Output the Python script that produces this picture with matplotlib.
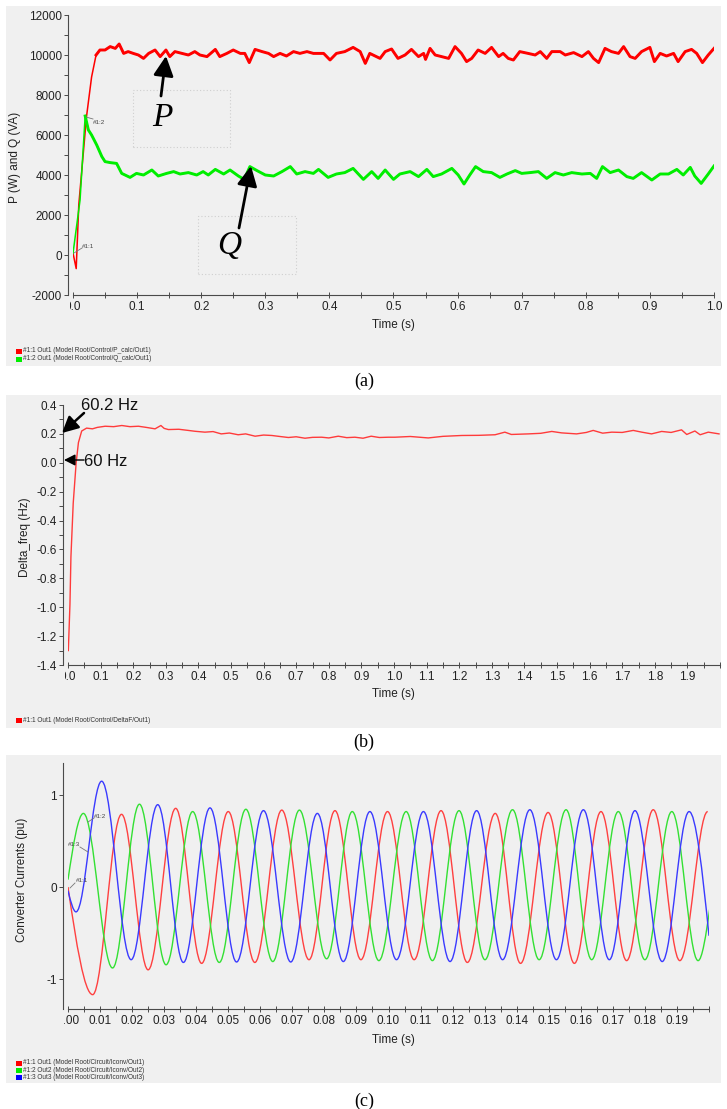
import numpy as np
import matplotlib
matplotlib.use("Agg")
import matplotlib.pyplot as plt
from matplotlib.patches import Rectangle, PathPatch, FancyArrowPatch
from matplotlib.path import Path
from matplotlib.lines import Line2D
from matplotlib.ticker import (MultipleLocator, FixedLocator, FixedFormatter,
                               FormatStrFormatter)
from matplotlib.transforms import Bbox, TransformedBbox

plt.rcParams["font.family"] = ["Liberation Sans", "DejaVu Sans"]
plt.rcParams["axes.unicode_minus"] = False

# ── (a) active / reactive power ── #
p_time = [0.000, 0.005, 0.009, 0.021, 0.029, 0.036, 0.042, 0.050, 0.058, 0.066,
          0.072, 0.079, 0.086, 0.094, 0.102, 0.110, 0.118, 0.128, 0.136, 0.145,
          0.151, 0.159, 0.170, 0.180, 0.190, 0.198, 0.209, 0.222, 0.229, 0.240,
          0.250, 0.261, 0.268, 0.275, 0.284, 0.295, 0.305, 0.313, 0.323, 0.333,
          0.344, 0.354, 0.365, 0.375, 0.391, 0.401, 0.411, 0.424, 0.437, 0.448,
          0.456, 0.463, 0.479, 0.487, 0.497, 0.507, 0.518, 0.528, 0.539, 0.547,
          0.550, 0.557, 0.565, 0.575, 0.586, 0.596, 0.606, 0.614, 0.622, 0.632,
          0.643, 0.653, 0.664, 0.671, 0.679, 0.687, 0.697, 0.710, 0.721, 0.729,
          0.739, 0.747, 0.760, 0.768, 0.781, 0.794, 0.804, 0.812, 0.820, 0.830,
          0.840, 0.851, 0.859, 0.869, 0.877, 0.887, 0.900, 0.907, 0.916, 0.926,
          0.937, 0.944, 0.955, 0.965, 0.973, 0.982, 0.991, 1.000]
p_watts = [100, -680, 2500, 6900, 8900, 10000, 10250, 10250, 10420, 10330,
           10550, 10080, 10170, 10080, 10000, 9830, 10080, 10250, 9920, 10250,
           9920, 10170, 10080, 10000, 10170, 10000, 9920, 10280, 9920, 10080,
           10250, 10080, 10080, 9620, 10280, 10170, 10080, 9920, 10080, 9950,
           10170, 10080, 10170, 10080, 10080, 9750, 10080, 10170, 10380, 10170,
           9580, 10080, 9830, 10170, 10300, 9830, 10000, 10280, 9920, 10080,
           9780, 10330, 10000, 9920, 9830, 10420, 10080, 9670, 9830, 10250,
           10080, 10380, 9920, 10080, 9830, 9750, 10170, 10080, 10000, 10170,
           9830, 10170, 10170, 10000, 10120, 9920, 10170, 9830, 9620, 10330,
           10170, 10080, 10420, 9920, 9830, 10170, 10380, 9670, 10080, 9950,
           10080, 9670, 10170, 10280, 10080, 9620, 10000, 10330]

q_time = [0.000, 0.011, 0.019, 0.024, 0.029, 0.037, 0.045, 0.050, 0.058, 0.068,
          0.076, 0.089, 0.099, 0.110, 0.123, 0.133, 0.146, 0.157, 0.167, 0.180,
          0.193, 0.203, 0.211, 0.222, 0.235, 0.245, 0.258, 0.267, 0.276, 0.287,
          0.300, 0.313, 0.326, 0.339, 0.349, 0.362, 0.375, 0.383, 0.398, 0.411,
          0.424, 0.437, 0.453, 0.466, 0.476, 0.487, 0.500, 0.510, 0.526, 0.539,
          0.552, 0.562, 0.575, 0.591, 0.601, 0.610, 0.619, 0.628, 0.640, 0.653,
          0.666, 0.677, 0.690, 0.700, 0.713, 0.726, 0.739, 0.752, 0.765, 0.778,
          0.794, 0.807, 0.817, 0.826, 0.838, 0.851, 0.864, 0.874, 0.887, 0.903,
          0.916, 0.929, 0.942, 0.952, 0.963, 0.970, 0.980, 0.991, 1.000]
q_var = [80, 2750, 6950, 6250, 6000, 5500, 4920, 4670, 4620, 4580,
         4080, 3880, 4080, 4000, 4250, 3950, 4080, 4170, 4050, 4120,
         4000, 4170, 4000, 4280, 4050, 4250, 3950, 3780, 4420, 4220,
         4000, 3950, 4170, 4420, 4050, 4170, 4080, 4280, 3880, 4050,
         4120, 4330, 3780, 4170, 3830, 4250, 3780, 4050, 4170, 3920,
         4280, 3920, 4050, 4330, 4000, 3550, 4000, 4420, 4170, 4120,
         3880, 4050, 4220, 4080, 4120, 4170, 3830, 4120, 4000, 4120,
         4050, 4080, 3830, 4420, 4120, 4250, 3920, 3830, 4120, 3750,
         4050, 4050, 4280, 4000, 4380, 3950, 3580, 4050, 4450]

# ── (b) frequency deviation ── #
df_time = [0.001, 0.006, 0.009, 0.016, 0.025, 0.032, 0.042, 0.057, 0.075, 0.090,
           0.114, 0.140, 0.165, 0.190, 0.216, 0.240, 0.267, 0.285, 0.295, 0.308,
           0.340, 0.369, 0.390, 0.420, 0.445, 0.470, 0.495, 0.522, 0.545, 0.574,
           0.600, 0.625, 0.650, 0.676, 0.700, 0.727, 0.750, 0.778, 0.800, 0.829,
           0.855, 0.880, 0.905, 0.930, 0.955, 0.983, 1.003, 1.050, 1.105, 1.150,
           1.208, 1.260, 1.310, 1.340, 1.360, 1.412, 1.450, 1.484, 1.514, 1.560,
           1.590, 1.611, 1.640, 1.668, 1.700, 1.734, 1.760, 1.790, 1.821, 1.850,
           1.882, 1.898, 1.923, 1.939, 1.964, 1.997]
df_hz = [-1.30, -0.98, -0.65, -0.28, 0.00, 0.14, 0.22, 0.240, 0.235, 0.245,
         0.253, 0.250, 0.258, 0.250, 0.253, 0.245, 0.235, 0.258, 0.238, 0.230,
         0.232, 0.224, 0.218, 0.212, 0.216, 0.200, 0.206, 0.194, 0.200, 0.184,
         0.192, 0.189, 0.182, 0.175, 0.180, 0.170, 0.176, 0.177, 0.172, 0.184,
         0.174, 0.177, 0.170, 0.184, 0.175, 0.177, 0.177, 0.182, 0.172, 0.183,
         0.189, 0.190, 0.194, 0.212, 0.196, 0.200, 0.204, 0.217, 0.207, 0.200,
         0.210, 0.224, 0.205, 0.212, 0.210, 0.224, 0.212, 0.200, 0.217, 0.210,
         0.228, 0.196, 0.220, 0.194, 0.212, 0.200]

# ── (c) converter phase currents: successive turning points ── #
ia_time = [0.0, 0.0077, 0.0167, 0.025, 0.0336, 0.0417, 0.050, 0.0583, 0.0667,
           0.0752, 0.0833, 0.0914, 0.0997, 0.108, 0.1164, 0.1246, 0.1333,
           0.1412, 0.1498, 0.158, 0.1663, 0.1743, 0.1826, 0.1909, 0.1996]
ia_pu = [0.0, -1.17, 0.79, -0.90, 0.855, -0.83, 0.82, -0.82, 0.836,
         -0.79, 0.83, -0.79, 0.82, -0.79, 0.83, -0.82, 0.80,
         -0.83, 0.81, -0.83, 0.82, -0.80, 0.84, -0.80, 0.82]
ib_time = [0.0, 0.0048, 0.0139, 0.0223, 0.0306, 0.0389, 0.0472, 0.0555, 0.0639,
           0.0722, 0.0807, 0.0887, 0.097, 0.1055, 0.1137, 0.122, 0.1301, 0.1387,
           0.147, 0.1554, 0.1634, 0.1717, 0.180, 0.1884, 0.1966, 0.2003]
ib_pu = [0.08, 0.80, -0.88, 0.90, -0.845, 0.82, -0.82, 0.845, -0.81,
         0.836, -0.78, 0.82, -0.80, 0.82, -0.80, 0.83, -0.79, 0.84,
         -0.79, 0.84, -0.79, 0.82, -0.79, 0.82, -0.80, -0.22]
ic_time = [0.0, 0.0025, 0.0105, 0.0197, 0.028, 0.036, 0.0443, 0.0526, 0.061,
           0.0695, 0.0778, 0.0859, 0.0942, 0.1025, 0.1109, 0.1192, 0.1275,
           0.1356, 0.1441, 0.1524, 0.1608, 0.1689, 0.1769, 0.1854, 0.1938, 0.200]
ic_pu = [-0.04, -0.27, 1.15, -0.79, 0.895, -0.82, 0.86, -0.815, 0.83,
         -0.815, 0.80, -0.81, 0.82, -0.79, 0.82, -0.81, 0.83,
         -0.79, 0.84, -0.79, 0.84, -0.79, 0.83, -0.81, 0.82, -0.53]

W, H, DPI = 727, 1109, 100
BG = "#f0f0f0"
AXIS = "#4a4a4a"
TXT = "#222222"
TICK_FS = 8.5


def fx(x):
    return x / W


def fy(y):
    return 1 - y / H


fig = plt.figure(figsize=(W / DPI, H / DPI), dpi=DPI, facecolor="white")

for top, bot in [(6, 366), (395, 728), (755, 1083)]:
    fig.add_artist(Rectangle((fx(6), fy(bot)), fx(721) - fx(6), fy(top) - fy(bot),
                             transform=fig.transFigure, facecolor=BG,
                             edgecolor="none", zorder=0))


def make_axes(left, right, top, bottom):
    ax = fig.add_axes([fx(left), fy(bottom), fx(right) - fx(left), fy(top) - fy(bottom)])
    ax.set_facecolor("none")
    ax.spines["top"].set_visible(False)
    ax.spines["right"].set_visible(False)
    ax.spines["left"].set_position(("outward", 3.6))
    for s in ("left", "bottom"):
        ax.spines[s].set_color(AXIS)
        ax.spines[s].set_linewidth(0.8)
    ax.tick_params(axis="x", which="both", direction="inout", length=4,
                   width=0.7, color=AXIS, labelsize=TICK_FS, labelcolor=TXT, pad=2)
    ax.tick_params(axis="y", which="both", direction="out", length=3,
                   width=0.7, color=AXIS, labelsize=TICK_FS, labelcolor=TXT, pad=1.5)
    return ax


def set_time_ticks(ax, majors, labels, minor_step, clip_left_px):
    ax.xaxis.set_major_locator(FixedLocator(majors))
    ax.xaxis.set_major_formatter(FixedFormatter(labels))
    ax.xaxis.set_minor_locator(MultipleLocator(minor_step))
    # the first label is partly hidden on its left edge
    box = TransformedBbox(Bbox([[fx(clip_left_px), 0], [1, 1]]), fig.transFigure)
    for tick in ax.xaxis.get_major_ticks():
        tick.label1.set_clip_box(box)
        tick.label1.set_clip_on(True)


def axis_labels(ax, xlab, xpos, ylab, ypos):
    ax.set_xlabel(xlab, fontsize=8.5, color=TXT, va="center")
    ax.xaxis.set_label_coords(fx(xpos[0]), fy(xpos[1]), transform=fig.transFigure)
    ax.set_ylabel(ylab, fontsize=8.5, color=TXT, va="center")
    ax.yaxis.set_label_coords(fx(ypos[0]), fy(ypos[1]), transform=fig.transFigure)


def legend_rows(rows, x, y0, dy):
    for i, (color, text) in enumerate(rows):
        y = y0 + i * dy
        fig.add_artist(Rectangle((fx(x), fy(y + 2.5)), fx(6), 5 / H,
                                 transform=fig.transFigure, facecolor=color,
                                 edgecolor="none"))
        fig.text(fx(x + 7), fy(y), text, fontsize=4.7, color="#333333",
                 va="center", ha="left")


def caption(text, y):
    fig.text(fx(364), fy(y), text, fontsize=13, family="Liberation Serif",
             ha="center", va="center", color="black")


def tag(text, xy, line_from, line_to):
    fig.add_artist(Line2D([fx(line_from[0]), fx(line_to[0])],
                          [fy(line_from[1]), fy(line_to[1])],
                          transform=fig.transFigure, color="#777777", lw=0.6))
    fig.text(fx(xy[0]), fy(xy[1]), text, fontsize=4.5, color="#444444",
             ha="left", va="center")


def arrow(tail, tip, lw=2.0, scale=16, width=0.38):
    fig.add_artist(FancyArrowPatch(
        (fx(tail[0]), fy(tail[1])), (fx(tip[0]), fy(tip[1])),
        transform=fig.transFigure,
        arrowstyle=f"-|>,head_length=0.75,head_width={width}",
        mutation_scale=scale, lw=lw, color="black", shrinkA=0, shrinkB=0))


def wave_path(times, values, partial_start, partial_end):
    """Smooth half-wave Bezier segments between successive turning points."""
    c = 0.3634
    verts = [(times[0], values[0])]
    codes = [Path.MOVETO]
    last = len(times) - 2
    for i in range(len(times) - 1):
        t0, t1 = times[i], times[i + 1]
        v0, v1 = values[i], values[i + 1]
        dt, dv = t1 - t0, v1 - v0
        if i == 0 and partial_start:
            c1 = (t0 + dt / 3, v0 + dv * 0.5236)
            c2 = (t0 + 2 * dt / 3, v1)
        elif i == last and partial_end:
            c1 = (t0 + dt / 3, v0)
            c2 = (t0 + 2 * dt / 3, v1 - dv * 0.5236)
        else:
            c1 = (t0 + c * dt, v0)
            c2 = (t1 - c * dt, v1)
        verts += [c1, c2, (t1, v1)]
        codes += [Path.CURVE4] * 3
    return Path(verts, codes)


# ── panel (a) ── #
ax1 = make_axes(73, 714, 15, 295)
# thin trace for the start-up ramp, heavier noisy band once settled
for times, vals, col, settle in [(p_time, p_watts, "#ff0000", 5),
                                 (q_time, q_var, "#00ee00", 2)]:
    ax1.plot(times, vals, color=col, lw=1.1)
    ax1.plot(times[settle:], vals[settle:], color=col, lw=2.1,
             solid_joinstyle="round")
ax1.set_xlim(0, 1.0)
ax1.set_ylim(-2000, 12000)
ax1.yaxis.set_major_locator(MultipleLocator(2000))
ax1.yaxis.set_minor_locator(MultipleLocator(1000))
set_time_ticks(ax1, np.round(np.arange(0, 1.01, 0.1), 1),
               [f"{v:.1f}" for v in np.arange(0, 1.01, 0.1)], 0.05, 70)
axis_labels(ax1, "Time (s)", (393, 325), "P (W) and Q (VA)", (15, 157))
legend_rows([("#ff0000", "#1:1 Out1 (Model Root/Control/P_calc/Out1)"),
             ("#00ee00", "#1:2 Out1 (Model Root/Control/Q_calc/Out1)")],
            16, 351, 8)
tag("#1:2", (93, 122), (86, 117), (93, 119))
tag("#1:1", (82, 246), (74, 253), (82, 248))

for (x0, y0, x1, y1) in [(133, 90, 230, 147), (198, 216, 296, 274)]:
    fig.add_artist(Rectangle((fx(x0), fy(y1)), fx(x1) - fx(x0), fy(y0) - fy(y1),
                             transform=fig.transFigure, facecolor="none",
                             edgecolor="#cfcfcf", lw=0.8, ls=(0, (1, 2))))
fig.text(fx(162), fy(118), "P", fontsize=24, family="Liberation Serif",
         style="italic", ha="center", va="center")
fig.text(fx(229), fy(246), "Q", fontsize=24, family="Liberation Serif",
         style="italic", ha="center", va="center")
arrow((161, 96), (166, 56))
arrow((239, 228), (251, 166))
caption("(a)", 381)

# ── panel (b) ── #
ax2 = make_axes(68, 720, 405, 665)
ax2.plot(df_time, df_hz, color="#ff3b3b", lw=1.0)
ax2.set_xlim(0, 2.0)
ax2.set_ylim(-1.4, 0.4)
ax2.yaxis.set_major_locator(MultipleLocator(0.2))
ax2.yaxis.set_minor_locator(MultipleLocator(0.1))
ax2.yaxis.set_major_formatter(FormatStrFormatter("%.1f"))
set_time_ticks(ax2, np.round(np.arange(0, 1.91, 0.1), 1),
               [f"{v:.1f}" for v in np.arange(0, 1.91, 0.1)], 0.05, 65)
axis_labels(ax2, "Time (s)", (393, 694), "Delta_freq (Hz)", (25, 537))
legend_rows([("#ff0000", "#1:1 Out1 (Model Root/Control/DeltaF/Out1)")], 16, 720, 8)
fig.text(fx(81), fy(406), "60.2 Hz", fontsize=12, ha="left", va="center", color="#111111")
fig.text(fx(84), fy(461), "60 Hz", fontsize=12, ha="left", va="center", color="#111111")
arrow((84, 413), (62, 433), lw=1.8, scale=13)
arrow((84, 460), (64, 460), lw=1.0, scale=9)
caption("(b)", 742)

# ── panel (c) ── #
ax3 = make_axes(68, 709, 763, 1009)
for times, vals, col, p_end in [(ia_time, ia_pu, "#ff4040", False),
                                (ib_time, ib_pu, "#33e033", True),
                                (ic_time, ic_pu, "#3a3aff", True)]:
    ax3.add_patch(PathPatch(wave_path(times, vals, True, p_end), facecolor="none",
                            edgecolor=col, lw=1.0))
ax3.set_xlim(0, 0.2)
ax3.set_ylim(-1.326, 1.348)
ax3.yaxis.set_major_locator(FixedLocator([-1, 0, 1]))
ax3.yaxis.set_major_formatter(FixedFormatter(["-1", "0", "1"]))
set_time_ticks(ax3, np.round(np.arange(0, 0.191, 0.01), 2),
               [f"{v:.2f}" for v in np.arange(0, 0.191, 0.01)], 0.005, 64)
axis_labels(ax3, "Time (s)", (393, 1040), "Converter Currents (pu)", (22, 880))
legend_rows([("#ff0000", "#1:1 Out1 (Model Root/Circuit/Iconv/Out1)"),
             ("#00ee00", "#1:2 Out2 (Model Root/Circuit/Iconv/Out2)"),
             ("#0000ff", "#1:3 Out3 (Model Root/Circuit/Iconv/Out3)")],
            16, 1063, 7.3)
tag("#1:2", (94, 817), (88, 822), (94, 818))
tag("#1:3", (68, 844), (80, 847), (88, 852))
tag("#1:1", (76, 880), (75, 883), (70, 888))
caption("(c)", 1101)

fig.savefig("out.png", dpi=DPI, facecolor="white")
